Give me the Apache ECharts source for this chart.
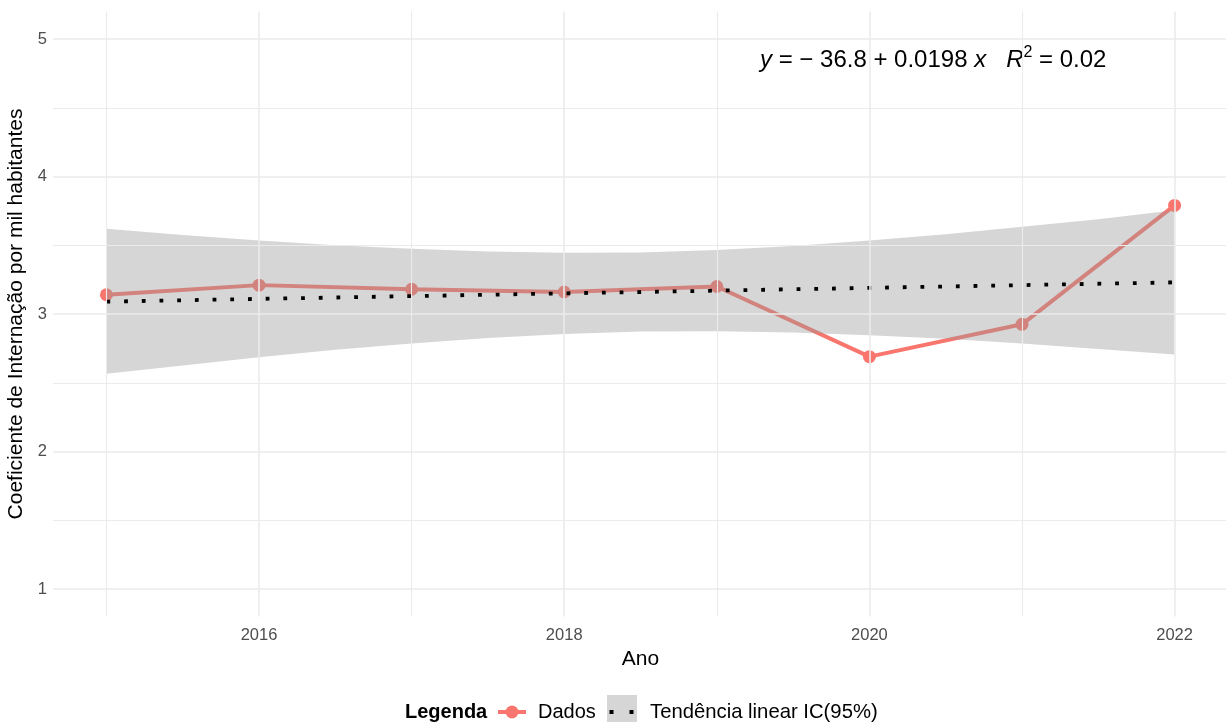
<!DOCTYPE html>
<html><head><meta charset="utf-8">
<script src="https://cdn.jsdelivr.net/npm/echarts@6/dist/echarts.min.js"></script>
<style>html,body{margin:0;padding:0;background:#fff}#c{width:1226px;height:722px}</style>
</head><body><div id="c"></div>
<script>
// ---- data ----
const years = [2015, 2016, 2017, 2018, 2019, 2020, 2021, 2022];
const dados = [3.14, 3.21, 3.18, 3.16, 3.20, 2.69, 2.925, 3.79];
const trendX = [2015, 2022];
const trendY = [3.09, 3.23];
const bandX = [2015, 2015.5, 2016, 2016.5, 2017, 2017.5, 2018, 2018.5, 2019, 2019.5, 2020, 2020.5, 2021, 2021.5, 2022];
const bandUpper = [3.62, 3.575, 3.535, 3.50, 3.475, 3.455, 3.445, 3.447, 3.465, 3.495, 3.535, 3.58, 3.635, 3.69, 3.755];
const bandLower = [2.565, 2.625, 2.685, 2.74, 2.785, 2.825, 2.855, 2.872, 2.875, 2.865, 2.845, 2.82, 2.785, 2.745, 2.705];
const xTickLabels = [2016, 2018, 2020, 2022];
const yTickLabels = [1, 2, 3, 4, 5];
const xMajor = [2016, 2018, 2020, 2022];
const xMinor = [2015, 2017, 2019, 2021];
const yMajor = [1, 2, 3, 4, 5];
const yMinor = [1.5, 2.5, 3.5, 4.5];
const labels = {
  x: 'Ano',
  y: 'Coeficiente de Internação por mil habitantes',
  legendTitle: 'Legenda',
  dados: 'Dados',
  trend: 'Tendência linear IC(95%)'
};

// ---- chart ----
const FONT = 'Liberation Sans, Arial, sans-serif';
const chart = echarts.init(document.getElementById('c'));
const gridLine = (w) => ({ color: '#ebebeb', width: w, type: 'solid' });
const mlData = []
  .concat(xMajor.map(v => ({ xAxis: v, lineStyle: gridLine(1.6) })))
  .concat(xMinor.map(v => ({ xAxis: v, lineStyle: gridLine(1.1) })))
  .concat(yMajor.map(v => ({ yAxis: v, lineStyle: gridLine(1.6) })))
  .concat(yMinor.map(v => ({ yAxis: v, lineStyle: gridLine(1.1) })));

const option = {
  animation: false,
  grid: { left: 53, right: -2, top: 11.5, bottom: 105.5, containLabel: false, outerBoundsMode: 'none' },
  xAxis: {
    type: 'value', min: 2014.65, max: 2022.35,
    axisLine: { show: false }, axisTick: { show: false }, splitLine: { show: false },
    axisLabel: { customValues: xTickLabels, formatter: v => String(v), color: '#4d4d4d', fontSize: 16.5, margin: 10, fontFamily: FONT },
    name: labels.x, nameLocation: 'middle', nameGap: 29,
    nameTextStyle: { color: '#000', fontSize: 21, fontFamily: FONT }
  },
  yAxis: {
    type: 'value', min: 0.8, max: 5.2,
    axisLine: { show: false }, axisTick: { show: false }, splitLine: { show: false },
    axisLabel: { customValues: yTickLabels, formatter: v => String(v), color: '#4d4d4d', fontSize: 16.5, margin: 6, fontFamily: FONT },
    name: labels.y, nameLocation: 'middle', nameGap: 24.5,
    nameTextStyle: { color: '#000', fontSize: 21, fontFamily: FONT }
  },
  series: [
    {
      type: 'line', z: 1, data: [], silent: true,
      markLine: { silent: true, symbol: ['none', 'none'], label: { show: false }, animation: false, data: mlData }
    },
    {
      type: 'line', z: 2, name: labels.dados,
      data: years.map((y, i) => [y, dados[i]]),
      symbol: 'circle', symbolSize: 13,
      itemStyle: { color: '#F8766D' },
      lineStyle: { color: '#F8766D', width: 4 }
    },
    {
      type: 'custom', z: 3, silent: true,
      data: [[2018, 3]],
      renderItem: function (params, api) {
        const pts = [];
        for (let i = 0; i < bandX.length; i++) pts.push(api.coord([bandX[i], bandUpper[i]]));
        for (let i = bandX.length - 1; i >= 0; i--) pts.push(api.coord([bandX[i], bandLower[i]]));
        return { type: 'polygon', shape: { points: pts }, style: { fill: 'rgba(153,153,153,0.4)' } };
      }
    },
    {
      type: 'line', z: 4, silent: true,
      data: trendX.map((x, i) => [x, trendY[i]]),
      symbol: 'none',
      lineStyle: { color: '#000', width: 3.8, type: [3.8, 13.9], cap: 'butt' }
    }
  ],
  graphic: [
    {
      type: 'text', left: 760, top: 45, silent: true,
      style: {
        rich: {
          i: { fontSize: 24, fontStyle: 'italic', fontFamily: FONT, fill: '#000', lineHeight: 30 },
          n: { fontSize: 24, fontFamily: FONT, fill: '#000', lineHeight: 30 },
          s: { fontSize: 16, fontFamily: FONT, fill: '#000', lineHeight: 30, verticalAlign: 'top' }
        },
        text: '{i|y}{n| = \u2212 36.8 + 0.0198 }{i|x}{n|   }{i|R}{s|2}{n| = 0.02}'
      }
    },
    { type: 'text', x: 405, y: 712, style: { text: labels.legendTitle, fontSize: 20, fontWeight: 'bold', fontFamily: FONT, fill: '#000', verticalAlign: 'middle' } },
    { type: 'line', shape: { x1: 498, y1: 712, x2: 526, y2: 712 }, style: { stroke: '#F8766D', lineWidth: 4 } },
    { type: 'circle', shape: { cx: 512, cy: 712, r: 6.5 }, style: { fill: '#F8766D' } },
    { type: 'text', x: 538, y: 712, style: { text: labels.dados, fontSize: 20, fontFamily: FONT, fill: '#000', verticalAlign: 'middle' } },
    { type: 'rect', shape: { x: 607, y: 695, width: 30, height: 31 }, style: { fill: 'rgba(153,153,153,0.4)' } },
    { type: 'rect', shape: { x: 609.5, y: 710, width: 4, height: 4 }, style: { fill: '#000' } },
    { type: 'rect', shape: { x: 629.5, y: 710, width: 4, height: 4 }, style: { fill: '#000' } },
    { type: 'text', x: 650, y: 712, style: { text: labels.trend, fontSize: 20.3, fontFamily: FONT, fill: '#000', verticalAlign: 'middle' } }
  ]
};
chart.setOption(option);
</script>
</body></html>
